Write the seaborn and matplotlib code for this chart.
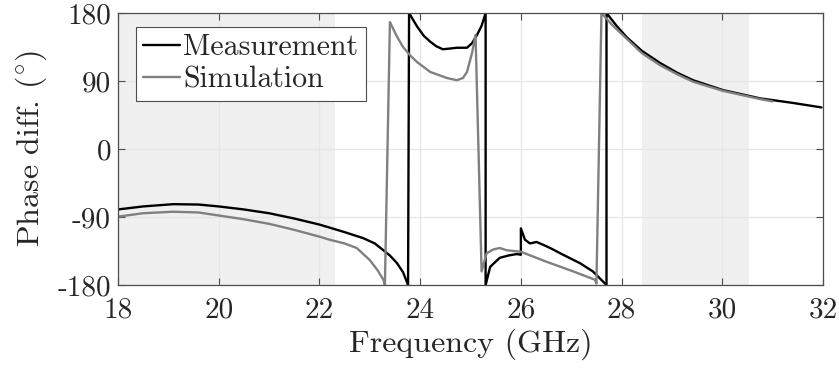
from matplotlib import pyplot as plt
import numpy as np
import pandas
import seaborn as sns

# Measurement (black), phase wraps at +-180
meas_freq = [18.0, 18.5, 19.1, 19.6, 20.0, 20.5, 21.0, 21.5, 22.0, 22.2, 22.5, 22.87, 23.1, 23.27, 23.4, 23.54, 23.66, 23.76,
             23.78, 23.94, 24.07, 24.2, 24.32, 24.45, 24.6, 24.73, 24.93, 25.03, 25.13, 25.22, 25.3,
             25.3, 25.39, 25.58, 25.75, 25.92, 26.0, 26.0, 26.08, 26.18, 26.31, 26.45, 26.58, 26.84, 27.17, 27.43, 27.7,
             27.7, 27.9, 28.1, 28.4, 28.76, 29.1, 29.42, 30.01, 30.75, 31.4, 31.97]
meas_phase = [-80, -76, -73, -73.5, -76, -80, -85, -92, -100, -104, -110, -118, -125, -134, -141, -151, -163, -180,
              180, 162, 150, 142, 136, 132, 133, 134, 134, 140, 151, 163, 180,
              -180, -156, -144, -141, -139, -140, -105, -120, -125, -123, -127, -131, -140, -151, -162, -180,
              180, 163, 148, 130, 114, 101, 91, 78, 67, 61, 55]

# Simulation (grey)
sim_freq = [18.0, 18.5, 19.1, 19.6, 20.0, 20.5, 21.0, 21.5, 22.0, 22.2, 22.5, 22.74, 23.0, 23.15, 23.27, 23.3,
            23.4, 23.53, 23.66, 23.8, 23.94, 24.2, 24.53, 24.73, 24.85, 24.93, 25.03, 25.1,
            25.22, 25.32, 25.45, 25.58, 25.72, 26.0, 26.5, 27.04, 27.47, 27.5,
            27.6, 27.8, 28.1, 28.4, 28.76, 29.1, 29.42, 30.01, 30.75, 31.0]
sim_phase = [-89.5, -85, -83, -84, -88, -93, -99, -107, -116, -120, -125, -131, -147, -160, -173, -180,
             168, 150, 135, 124, 115, 102, 94, 91, 94, 102, 127, 151,
             -162, -138, -133, -131, -134, -136, -149, -162, -173, -178,
             180, 165, 146, 127, 111, 99, 89, 77, 66, 63]

# Shaded frequency bands
band_start = [18.0, 28.4]
band_end = [22.3, 30.53]

x_ticks = [18, 20, 22, 24, 26, 28, 30, 32]
y_ticks = [-180, -90, 0, 90, 180]

df_meas = pandas.DataFrame({'f': meas_freq, 'p': meas_phase})
df_sim = pandas.DataFrame({'f': sim_freq, 'p': sim_phase})

sns.set_style("whitegrid")
plt.rcParams['font.family'] = ['cmr10', 'DejaVu Serif']
plt.rcParams['mathtext.fontset'] = 'cm'
plt.rcParams['axes.unicode_minus'] = False
plt.rcParams['axes.formatter.use_mathtext'] = True
txt_color = '#262626'

fig, ax1 = plt.subplots(figsize=(8.39, 3.69), dpi=100)
fig.subplots_adjust(left=0.1406, right=0.981, top=0.9648, bottom=0.2276)

for a, b in zip(band_start, band_end):
    ax1.axvspan(a, b, color='#f0f0f0', zorder=0, lw=0)

sns.lineplot(data=df_meas, x='f', y='p', ax=ax1, color='black', linewidth=1.7,
             sort=False, estimator=None, label='Measurement')
sns.lineplot(data=df_sim, x='f', y='p', ax=ax1, color='#808080', linewidth=1.7,
             sort=False, estimator=None, label='Simulation')

# Plot settings
ax1.set_xlim(18, 32)
ax1.set_ylim(-180, 180)
ax1.set_xticks(x_ticks)
ax1.set_yticks(y_ticks)
ax1.set_xticklabels([str(t) for t in x_ticks])
ax1.set_yticklabels([str(t) for t in y_ticks])
ax1.grid(True, color='#e6e6e6', linewidth=0.9)
ax1.set_axisbelow(True)
for s in ax1.spines.values():
    s.set_color('#4d4d4d')
    s.set_linewidth(0.9)
ax1.tick_params(direction='in', length=5, width=0.8, color='#4d4d4d', labelsize=21,
                labelcolor=txt_color, top=True, right=True, bottom=True, left=True, pad=5)
ax1.tick_params(axis='x', pad=9)
ax1.set_xlabel('Frequency (GHz)', fontsize=23, labelpad=3, color=txt_color)
ax1.set_ylabel(r'Phase diff. $(^{\circ})$', fontsize=23, labelpad=6, color=txt_color)

leg = ax1.legend(loc='upper left', bbox_to_anchor=(0.025, 0.95), fontsize=21.5, frameon=True,
                 fancybox=False, framealpha=1, edgecolor='#4d4d4d', handlelength=1.25,
                 handletextpad=0.1, borderpad=0.25, labelspacing=0.15, borderaxespad=0)
leg.get_frame().set_linewidth(0.8)
for t in leg.get_texts():
    t.set_color(txt_color)

fig.savefig('out.png', dpi=100)
